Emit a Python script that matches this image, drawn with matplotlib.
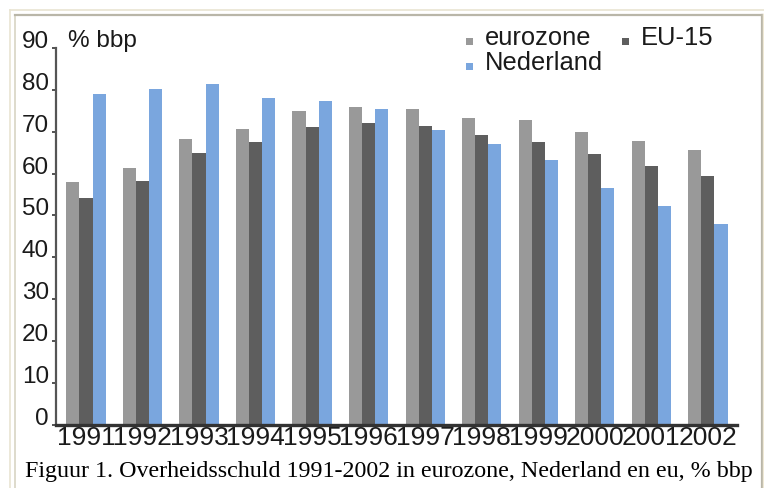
import matplotlib
matplotlib.use("Agg")
import matplotlib.pyplot as plt
from matplotlib.lines import Line2D
from matplotlib.patches import Rectangle
from matplotlib.legend_handler import HandlerPatch
from matplotlib.container import BarContainer
import numpy as np

years = ["1991", "1992", "1993", "1994", "1995", "1996",
         "1997", "1998", "1999", "2000", "2001", "2002"]
eurozone = [57.9, 61.4, 68.2, 70.7, 74.9, 75.9, 75.5, 73.3, 72.8, 69.9, 67.8, 65.7]
eu15 = [54.1, 58.3, 64.9, 67.6, 71.2, 72.1, 71.4, 69.2, 67.6, 64.6, 61.8, 59.3]
nederland = [79.0, 80.1, 81.3, 78.1, 77.4, 75.4, 70.3, 67.1, 63.3, 56.5, 52.2, 47.9]
yticks = [0, 10, 20, 30, 40, 50, 60, 70, 80, 90]

W, H = 764, 488
fig = plt.figure(figsize=(W / 100, H / 100), dpi=100)
fig.patch.set_facecolor("white")

def fx(px):
    return px / W

def fy(py):
    return 1 - py / H

# page frame lines
frame = [
    ((10, 10), (10, H), "#e9e4d2", 1.2),
    ((10, W), (10, 10), "#e9e4d2", 1.2),
    ((15, 15), (15, H), "#d8d4c4", 1.2),
    ((15, 762), (15, 15), "#b9b6a8", 1.6),
    ((762, 762), (15, H), "#b9b6a8", 1.6),
    ((763.5, 763.5), (15, H), "#efe9d6", 2.5),
]
for xs, ys, c, lw in frame:
    fig.add_artist(Line2D([fx(x) for x in xs], [fy(y) for y in ys],
                          color=c, lw=lw, transform=fig.transFigure))

ax_left, ax_right, ax_top, ax_bottom = 56, 736.7, 47.7, 425.2
ax = fig.add_axes([fx(ax_left), fy(ax_bottom),
                   (ax_right - ax_left) / W, (ax_bottom - ax_top) / H])

x = np.arange(len(years))
bw = 0.232
c_euro, c_eu, c_nl = "#999999", "#5e5e5e", "#7aa6de"
b1 = ax.bar(x - bw, eurozone, bw, color=c_euro, label="eurozone", linewidth=0)
b2 = ax.bar(x, eu15, bw, color=c_eu, label="EU-15", linewidth=0)
b3 = ax.bar(x + bw, nederland, bw, color=c_nl, label="Nederland", linewidth=0)

ax.set_xlim(-0.53, 11.51)
ax.set_ylim(0, 90)
ax.set_yticks(yticks)
ax.set_yticklabels([str(v) for v in yticks], fontfamily="Liberation Sans",
                   fontsize=17.5, color="#1a1a1a")
for lab in ax.get_yticklabels():
    lab.set_verticalalignment("baseline")
ax.tick_params(axis="y", length=3, width=1.3, color="#444444", pad=2)

ax.set_xticks(x)
ax.set_xticklabels(years, fontfamily="Liberation Sans", fontsize=19,
                   color="#1a1a1a")
ax.tick_params(axis="x", length=0, pad=0.5)

for s in ("top", "right"):
    ax.spines[s].set_visible(False)
ax.spines["left"].set_color("#555555")
ax.spines["left"].set_linewidth(1.6)
ax.spines["bottom"].set_color("#333333")
ax.spines["bottom"].set_linewidth(2.4)

fig.text(fx(68), fy(46.7), "% bbp", fontfamily="Liberation Sans",
         fontsize=17.5, color="#1a1a1a", ha="left", va="baseline")


def small_square(legend, orig_handle, xdescent, ydescent, width, height, fontsize):
    # little square sitting on the text baseline
    side = 5.0
    return Rectangle((-xdescent, 0), side, side)


def copy_bar_color(legend_handle, orig_handle):
    legend_handle.set_facecolor(orig_handle.patches[0].get_facecolor())
    legend_handle.set_linewidth(0)


leg = ax.legend(handles=[b1, b3, b2], labels=["eurozone", "Nederland", "EU-15"],
                ncol=2, loc="upper left",
                bbox_to_anchor=(fx(466), fy(26)), bbox_transform=fig.transFigure,
                frameon=False, borderpad=0, borderaxespad=0,
                handlelength=0.28, handleheight=0.28, handletextpad=0.45,
                labelspacing=0.05, columnspacing=0.75,
                handler_map={BarContainer: HandlerPatch(patch_func=small_square,
                                                        update_func=copy_bar_color)},
                prop={"family": "Liberation Sans", "size": 18.4})
for t in leg.get_texts():
    t.set_color("#1a1a1a")

fig.text(fx(25), fy(476.7),
         "Figuur 1. Overheidsschuld 1991-2002 in eurozone, Nederland en eu, % bbp",
         fontfamily="Liberation Serif", fontsize=17.3, color="black",
         ha="left", va="baseline")

fig.savefig("out.png", dpi=100)
